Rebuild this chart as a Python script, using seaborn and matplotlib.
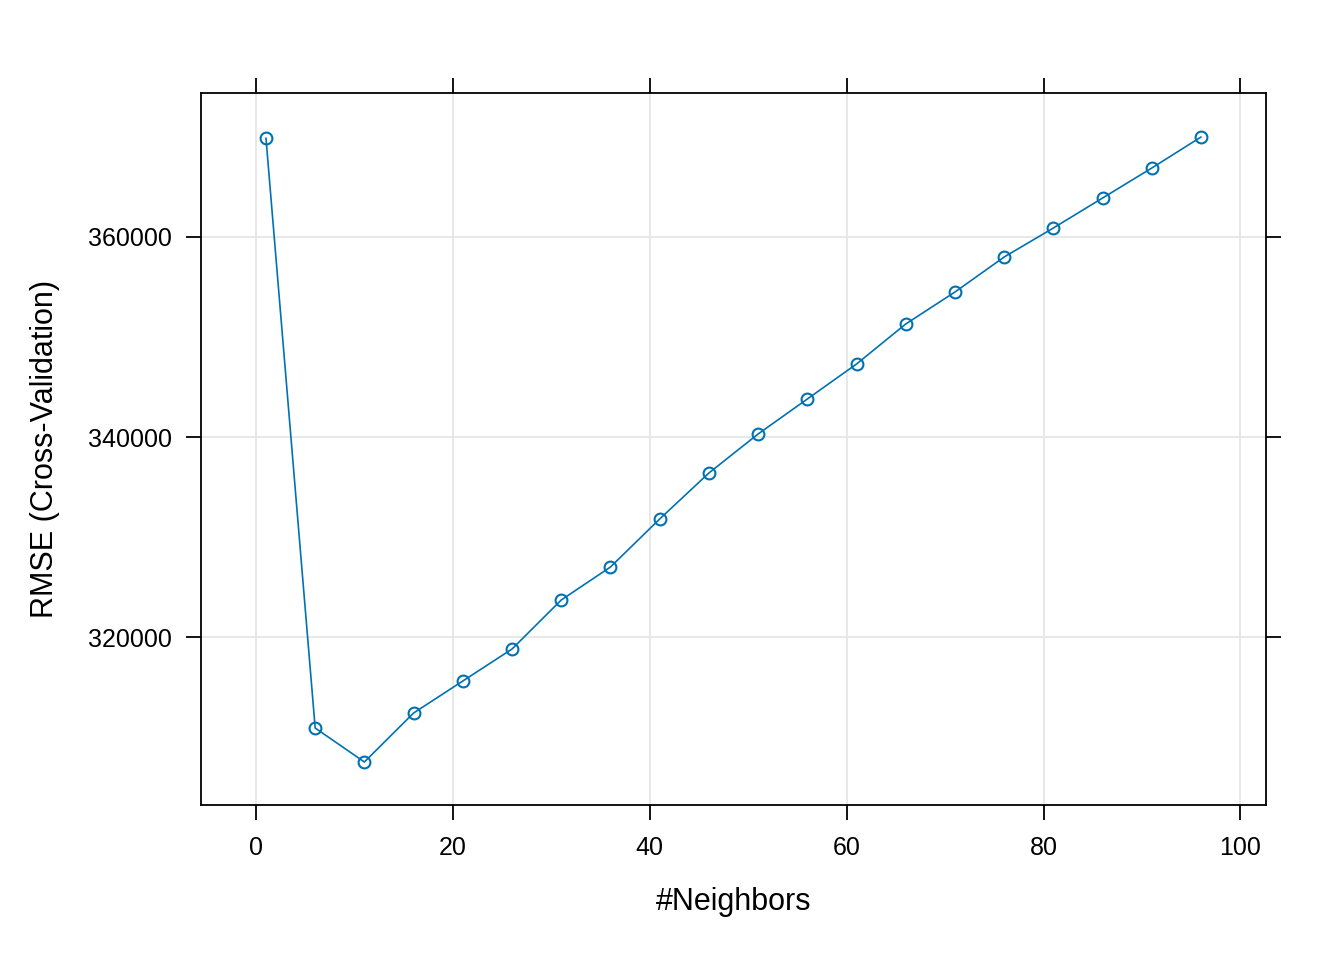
import numpy as np
import pandas as pd
import matplotlib
matplotlib.use("Agg")
import matplotlib.pyplot as plt
import seaborn as sns

neighbors = [1, 6, 11, 16, 21, 26, 31, 36, 41, 46, 51, 56, 61, 66, 71, 76, 81, 86, 91, 96]
rmse = [369900, 310900, 307500, 312400, 315600, 318800, 323700, 327000, 331800, 336400,
        340300, 343800, 347300, 351300, 354500, 358000, 360900, 363900, 366900, 370000]

df = pd.DataFrame({"#Neighbors": neighbors, "RMSE (Cross-Validation)": rmse})

sns.set_style("white")
plt.rcParams["font.family"] = ["Liberation Sans", "DejaVu Sans"]
plt.rcParams["text.color"] = "black"
plt.rcParams["axes.labelcolor"] = "black"
plt.rcParams["xtick.color"] = "black"
plt.rcParams["ytick.color"] = "black"

fig = plt.figure(figsize=(13.44, 9.6), dpi=100)
ax = fig.add_axes([201 / 1344, 1 - 805 / 960, (1266 - 201) / 1344, (805 - 93) / 960])

col = "#0072B2"
sns.lineplot(data=df, x="#Neighbors", y="RMSE (Cross-Validation)", ax=ax,
             color=col, lw=1.2, marker="o", markersize=8.5,
             markerfacecolor="none", markeredgecolor=col, markeredgewidth=1.5)

ax.set_xlim(-5.6, 102.6)
ax.set_ylim(303200, 374400)
ax.set_xticks([0, 20, 40, 60, 80, 100])
ax.set_yticks([320000, 340000, 360000])
ax.set_yticklabels(["320000", "340000", "360000"])
ax.grid(True, color="#E6E6E6", lw=1.3)
ax.set_axisbelow(True)

for s in ax.spines.values():
    s.set_color("black")
    s.set_linewidth(1.3)

ax.tick_params(axis="both", direction="out", length=11, width=1.3, color="black",
               labelsize=18, top=True, right=True, bottom=True, left=True,
               labeltop=False, labelright=False, labelcolor="black")
ax.tick_params(axis="x", pad=11)
ax.tick_params(axis="y", pad=10)
ax.set_xlabel("#Neighbors", fontsize=22, labelpad=20)
ax.set_ylabel("RMSE (Cross-Validation)", fontsize=22, labelpad=20)

fig.savefig("out.png", dpi=100)
